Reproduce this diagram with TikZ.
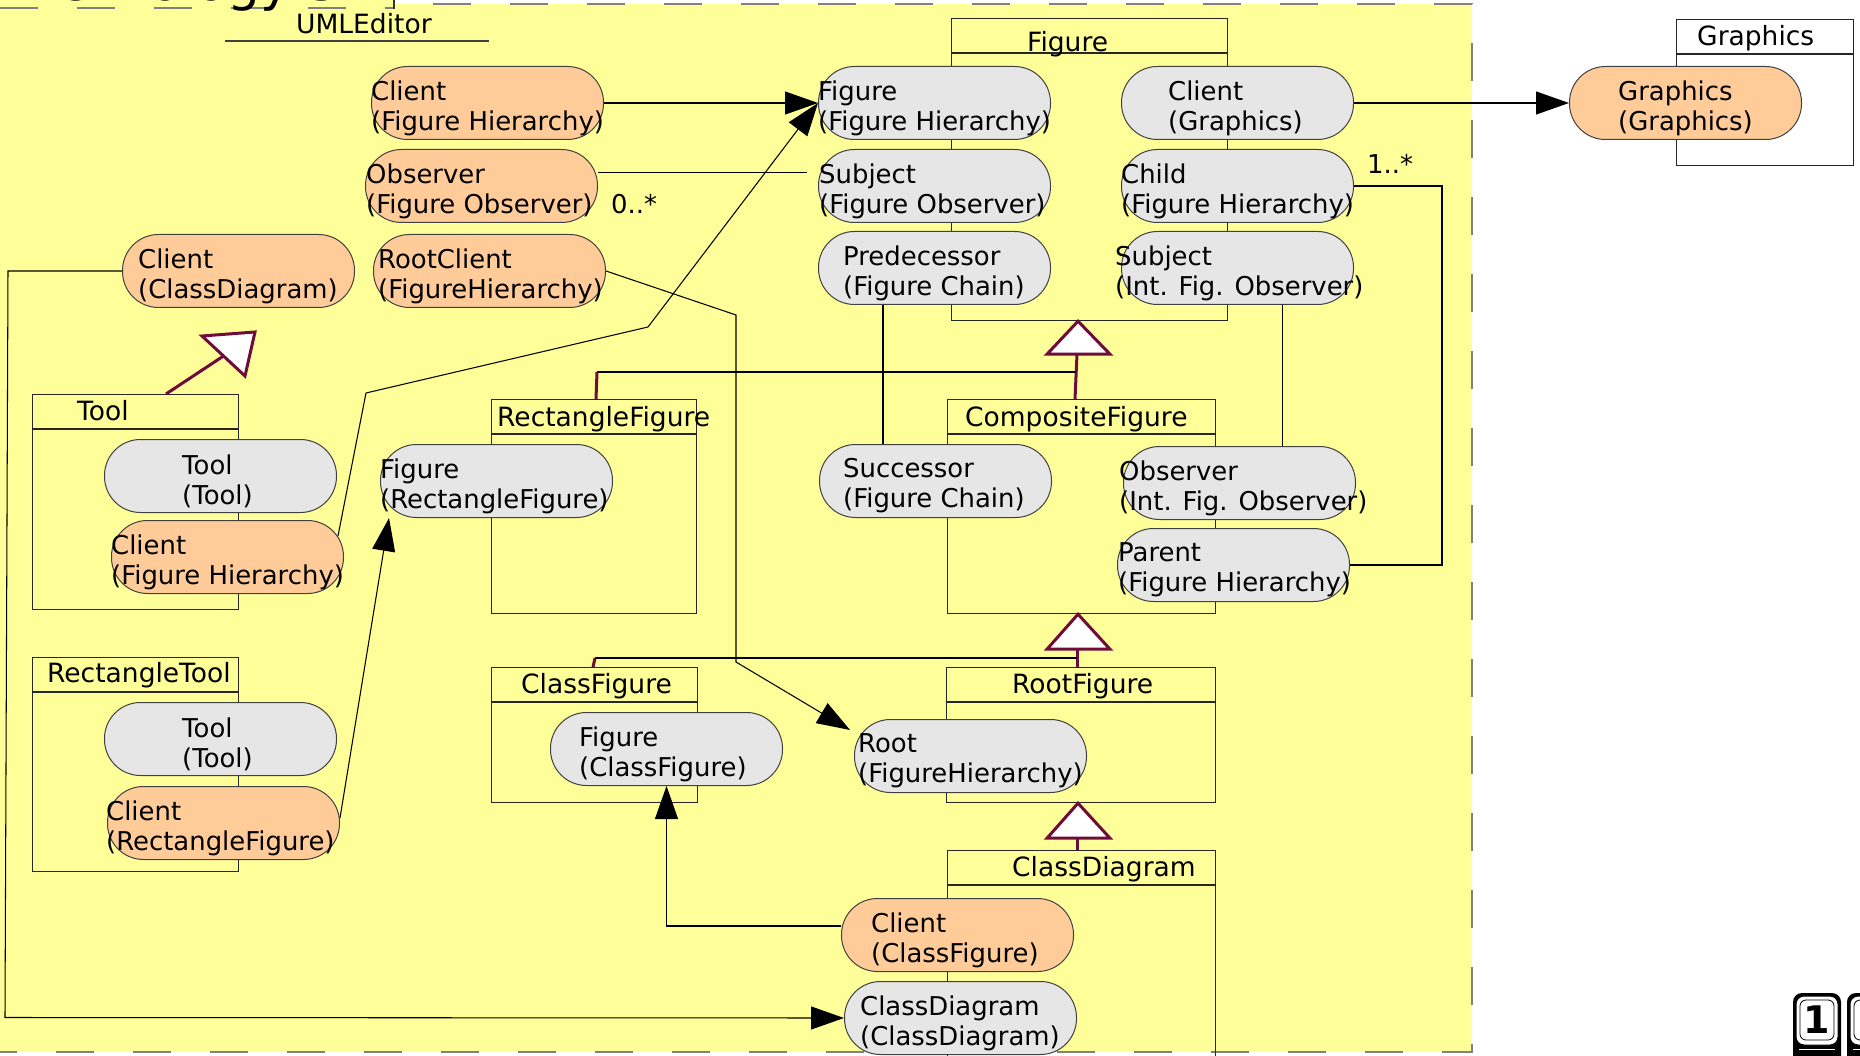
\documentclass[tikz,border=0pt]{standalone}
\usepackage{fontspec}
\setmainfont{DejaVu Sans}
\usetikzlibrary{calc,arrows.meta}

\definecolor{pkgyellow}{RGB}{255,255,153}
\definecolor{rolegray}{RGB}{230,230,230}
\definecolor{roleorange}{RGB}{255,204,153}
\definecolor{genred}{RGB}{110,12,58}
\definecolor{pkgdash}{RGB}{128,128,128}

\newcommand{\rolefont}{\fontsize{25.9}{30}\selectfont}
\newcommand{\headfont}{\fontsize{26.5}{31}\selectfont}

\begin{document}
\begin{tikzpicture}[x=1pt,y=-1pt,
  clsbox/.style={draw=black!85, line width=1.2pt, inner sep=0pt, anchor=north west},
  clsline/.style={draw=black!85, line width=1.2pt},
  role/.style={draw=black!75, line width=1pt, rounded corners=36pt,
    minimum width=232pt, minimum height=73pt, inner sep=0pt, anchor=north west},
  grayrole/.style={role, fill=rolegray},
  orangerole/.style={role, fill=roleorange},
  roletext/.style={anchor=west, inner sep=0pt, align=left, font=\rolefont},
  headtext/.style={anchor=base west, inner sep=0pt, font=\headfont},
  multtext/.style={anchor=base west, inner sep=0pt, font=\rolefont},
  link/.style={draw=black, line width=1.05pt},
  arrowlink/.style={link, -{Triangle[length=33pt,width=23pt]}},
  genline/.style={draw=genred, line width=3pt},
  gentri/.style={draw=genred, fill=white, line width=3pt, line join=miter},
  pkgborder/.style={draw=pkgdash, line width=2.5pt, dash pattern=on 38pt off 39pt},
]
\useasboundingbox (0,0) rectangle (1860,1056);
\clip (0,0) rectangle (1860,1056);
\fill[white] (0,0) rectangle (1860,1056);

% package body and tab
\fill[pkgyellow] (-10,4) rectangle (1472,1052);
\fill[pkgyellow] (-10,-10) rectangle (394,9);
\draw[pkgborder, dash phase=38pt] (394,4) -- (1472,4) -- (1472,1052) -- (-10,1052);
\draw[pkgborder] (0,8) -- (394,8);
\draw[black!80, line width=1.2pt] (394,-5) -- (394,9);
\node[anchor=base west, inner sep=0pt, font=\fontsize{52}{60}\selectfont] (title) at (55,1) {Ontology 3};

% package name
\node[headtext] (umled) at (296,34) {UMLEditor};
\draw[black!75, line width=1.3pt] ($(umled.base west)+(-71,7)$) -- ++(264,0);

% class boxes
\node[clsbox, minimum width=276pt, minimum height=302pt] (figcls) at (951,18) {};
\node[clsbox, minimum width=177pt, minimum height=146pt] (gracls) at (1676,19) {};
\node[clsbox, minimum width=206pt, minimum height=215pt] (toolcls) at (32,394) {};
\node[clsbox, minimum width=206pt, minimum height=214pt] (rtcls) at (32,657) {};
\node[clsbox, minimum width=205pt, minimum height=214pt] (rfcls) at (491,399) {};
\node[clsbox, minimum width=268pt, minimum height=214pt] (cfcls) at (947,399) {};
\node[clsbox, minimum width=206pt, minimum height=135pt] (clfcls) at (491,667) {};
\node[clsbox, minimum width=269pt, minimum height=135pt] (rootcls) at (946,667) {};
\node[clsbox, minimum width=268pt, minimum height=260pt] (cdcls) at (947,850) {};

\foreach \c in {figcls,gracls,toolcls,rtcls,rfcls,cfcls,clfcls,rootcls,cdcls}
  \draw[clsline] ($(\c.north west)+(0,35)$) -- ($(\c.north east)+(0,35)$);

% class names
\node[headtext] (figcls-t) at (1027,52) {Figure};
\node[headtext] (gracls-t) at (1697,46) {Graphics};
\node[headtext] (toolcls-t) at (77,420) {Tool};
\node[headtext] (rtcls-t) at (47,682) {RectangleTool};
\node[headtext] (rfcls-t) at (497,426) {RectangleFigure};
\node[headtext] (cfcls-t) at (965,426) {CompositeFigure};
\node[headtext] (clfcls-t) at (521,693) {ClassFigure};
\node[headtext] (rootcls-t) at (1012,693) {RootFigure};
\node[headtext] (cdcls-t) at (1012,876) {ClassDiagram};

% generalizations
\draw[genline] ($(figcls.south west)+(126,33)$) -- ($(cfcls.north west)+(128,0)$);
\draw[gentri] ($(figcls.south west)+(127,0)$) -- ++(-31,33) -- ++(63,0) -- cycle;
\draw[link] ($(rfcls.north west)+(106,-27)$) -- ($(cfcls.north west)+(129,-27)$);
\draw[genline] ($(rfcls.north west)+(105,0)$) -- ($(rfcls.north west)+(106,-27)$);

\draw[genline] ($(cfcls.south west)+(130,35)$) -- ($(rootcls.north west)+(131,0)$);
\draw[gentri] ($(cfcls.south west)+(131,0)$) -- ++(-31,35) -- ++(63,0) -- cycle;
\draw[link] ($(clfcls.north west)+(104,-9)$) -- ($(rootcls.north west)+(131,-9)$);
\draw[genline] ($(clfcls.north west)+(102,0)$) -- ($(clfcls.north west)+(104,-9)$);

\draw[genline] ($(rootcls.south west)+(131,35)$) -- ($(cdcls.north west)+(130,0)$);
\draw[gentri] ($(rootcls.south west)+(132,0)$) -- ++(-31,35) -- ++(63,0) -- cycle;

\draw[genline] ($(toolcls.north west)+(134,0)$) -- ($(toolcls.north west)+(191.5,-38)$);
\draw[gentri] ($(toolcls.north west)+(170,-58)$) -- ($(toolcls.north west)+(223,-62)$)
  -- ($(toolcls.north west)+(213,-18)$) -- cycle;

% roles
\node[grayrole] (fh) at (818,66) {};
\node[grayrole] (sfo) at (818,149) {};
\node[grayrole] (pred) at (818,231) {};
\node[grayrole] (cg) at (1121,66) {};
\node[grayrole] (child) at (1121,149) {};
\node[grayrole] (sifo) at (1121,231) {};
\node[orangerole] (gg) at (1569,66) {};
\node[orangerole] (cfh) at (371,66) {};
\node[orangerole] (obs) at (365,149) {};
\node[orangerole] (rc) at (373,234) {};
\node[orangerole] (ccd) at (122,234) {};
\node[grayrole] (tt1) at (104,439) {};
\node[orangerole] (tcl) at (111,520) {};
\node[grayrole] (tt2) at (104,702) {};
\node[orangerole] (crf) at (107,786) {};
\node[grayrole] (frf) at (380,444) {};
\node[grayrole] (succ) at (819,444) {};
\node[grayrole] (oifo) at (1123,446) {};
\node[grayrole] (par) at (1117,528) {};
\node[grayrole] (fcf) at (550,712) {};
\node[grayrole] (root) at (854,719) {};
\node[orangerole] (ccf) at (841,898) {};
\node[grayrole] (cdcd) at (844,981) {};

% connectors
\draw[arrowlink] (cfh.east) -- (fh.west);
\draw[arrowlink] (cg.east) -- (gg.west);
\draw[link] ($(obs.east)+(0,-13.5)$) -- ($(sfo.west)+(-11,-13.5)$);
\draw[arrowlink] ($(tcl.east)+(-6,-21)$) -- (366,393) -- (648,327) -- (fh.west);
\draw[arrowlink] ($(crf.east)+(0,-5)$) -- ($(frf.south west)+(9,0)$);
\draw[arrowlink] (rc.east) -- (736,315) -- (736,662) -- ($(root.west)+(-4,-26)$);
\draw[arrowlink] (ccd.west) -- ++(-114,0) -- (5,1017.5) -- (cdcd.west);
\draw[arrowlink] ($(ccf.west)+(0,-9)$) -| (fcf.south);
\draw[link] ($(pred.south)+(-51.5,0)$) -- ($(succ.north)+(-52.5,0)$);
\draw[link] ($(sifo.south)+(45,0)$) -- ($(oifo.north)+(43,0)$);
\draw[link] (child.east) -- ++(88,0) |- (par.east);

\node[multtext] (mult0) at (611,214) {0..*};
\node[multtext] (mult1) at (1367,174) {1..*};

% role labels
\node[roletext] (fh-t) at ($(fh.west)+(0,5)$) {Figure\\(Figure Hierarchy)};
\node[roletext] (sfo-t) at ($(sfo.west)+(1,5)$) {Subject\\(Figure Observer)};
\node[roletext] (pred-t) at ($(pred.west)+(25,5)$) {Predecessor\\(Figure Chain)};
\node[roletext] (cg-t) at ($(cg.west)+(47,5)$) {Client\\(Graphics)};
\node[roletext] (child-t) at ($(child.west)+(0,5)$) {Child\\(Figure Hierarchy)};
\node[roletext] (sifo-t) at ($(sifo.west)+(-6,5)$) {Subject\\(Int. Fig. Observer)};
\node[roletext] (gg-t) at ($(gg.west)+(49,5)$) {Graphics\\(Graphics)};
\node[roletext] (cfh-t) at ($(cfh.west)+(0,5)$) {Client\\(Figure Hierarchy)};
\node[roletext] (obs-t) at ($(obs.west)+(1,5)$) {Observer\\(Figure Observer)};
\node[roletext] (rc-t) at ($(rc.west)+(5,5)$) {RootClient\\(FigureHierarchy)};
\node[roletext] (ccd-t) at ($(ccd.west)+(16,5)$) {Client\\(ClassDiagram)};
\node[roletext] (tt1-t) at ($(tt1.west)+(78,5)$) {Tool\\(Tool)};
\node[roletext] (tcl-t) at ($(tcl.west)+(0,5)$) {Client\\(Figure Hierarchy)};
\node[roletext] (tt2-t) at ($(tt2.west)+(78,5)$) {Tool\\(Tool)};
\node[roletext] (crf-t) at ($(crf.west)+(-1,5)$) {Client\\(RectangleFigure)};
\node[roletext] (frf-t) at ($(frf.west)+(0,5)$) {Figure\\(RectangleFigure)};
\node[roletext] (succ-t) at ($(succ.west)+(24,5)$) {Successor\\(Figure Chain)};
\node[roletext] (oifo-t) at ($(oifo.west)+(-4,5)$) {Observer\\(Int. Fig. Observer)};
\node[roletext] (par-t) at ($(par.west)+(1,5)$) {Parent\\(Figure Hierarchy)};
\node[roletext] (fcf-t) at ($(fcf.west)+(29,5)$) {Figure\\(ClassFigure)};
\node[roletext] (root-t) at ($(root.west)+(4,5)$) {Root\\(FigureHierarchy)};
\node[roletext] (ccf-t) at ($(ccf.west)+(30,5)$) {Client\\(ClassFigure)};
\node[roletext] (cdcd-t) at ($(cdcd.west)+(16,5)$) {ClassDiagram\\(ClassDiagram)};

% keycaps in the corner
\foreach \kx/\kn in {1793/keyone,1847/keytwo} {
  \fill[black, rounded corners=9pt] (\kx,993) rectangle ++(48,80);
  \filldraw[fill=white, draw=black, line width=1pt, rounded corners=8pt] (\kx+3,996) rectangle ++(42,49);
  \draw[black, line width=0.8pt, rounded corners=6pt] (\kx+7,1000) rectangle ++(34,40);
  \draw[white, line width=1pt] (\kx+6,1049) -- ++(36,0);
}
\node[font=\fontsize{38}{38}\selectfont\bfseries, inner sep=0pt] (keyone-t) at (1817,1020) {1};
\end{tikzpicture}
\end{document}
